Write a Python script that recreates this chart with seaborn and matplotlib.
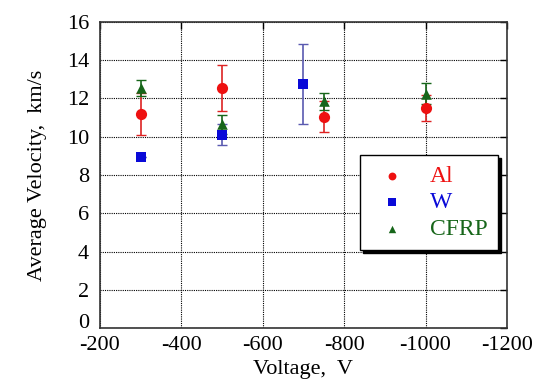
import numpy as np
import pandas as pd
import matplotlib
matplotlib.use("Agg")
import matplotlib.pyplot as plt
import seaborn as sns

# values
volt_al = [-300, -500, -750, -1000]
vel_al = [11.2, 12.55, 11.05, 11.5]
err_al = [1.1, 1.2, 0.8, 0.7]

volt_w = [-300, -500, -700]
vel_w = [8.95, 10.1, 12.75]
err_w = [0.0, 0.55, 2.1]

volt_cf = [-300, -500, -750, -1000]
vel_cf = [12.55, 10.65, 11.85, 12.25]
err_cf = [0.42, 0.5, 0.45, 0.55]

x_ticks = [-200, -400, -600, -800, -1000, -1200]
y_ticks = [0, 2, 4, 6, 8, 10, 12, 14, 16]

series = [
    ("Al", volt_al, vel_al, err_al, "#ee1111", "#dd2222", "o", 65),
    ("W", volt_w, vel_w, err_w, "#0a0ad8", "#5a5ab0", "s", 58),
    ("CFRP", volt_cf, vel_cf, err_cf, "#17661a", "#17661a", "^", 58),
]

sns.set_style("white")
plt.rcParams["font.family"] = ["Liberation Serif", "DejaVu Serif"]
plt.rcParams["font.size"] = 16
plt.rcParams["axes.unicode_minus"] = False
plt.rcParams["text.color"] = "black"
plt.rcParams["axes.labelcolor"] = "black"

fig = plt.figure(figsize=(5.39, 3.85), dpi=100)
ax = fig.add_axes([0.1855, 0.148, 0.755, 0.795])

for name, xs, ys, es, col, ecol, mk, sz in series:
    ax.errorbar(xs, ys, yerr=es, fmt="none", ecolor=ecol, elinewidth=1.2,
                capsize=3.5, capthick=1.0, zorder=2)
    df = pd.DataFrame({"x": xs, "y": ys})
    sns.scatterplot(data=df, x="x", y="y", ax=ax, marker=mk, s=sz, color=col,
                    edgecolor=col, linewidth=0, label=name, zorder=3)

ax.set_xlim(-200, -1200)
ax.set_ylim(0, 16)
ax.set_xticks(x_ticks)
ax.set_yticks(y_ticks)
ax.grid(True, color="black", linestyle=(0, (1, 1)), linewidth=0.8)
ax.tick_params(direction="in", top=True, right=True, length=5, width=1,
               labelsize=16, colors="black")
ax.tick_params(axis="x", pad=6)
ax.tick_params(axis="y", pad=8)
# the "0" sits on the axis line, just above the first x label
ax.get_yticklabels()[0].set_va("baseline")
for sp in ax.spines.values():
    sp.set_color("#333333")
    sp.set_linewidth(1.2)

ax.set_xlabel("Voltage,  V", fontsize=16, labelpad=3)
ax.set_ylabel("Average Velocity,  km/s", fontsize=16, labelpad=14)

leg = ax.legend(loc="upper left", bbox_to_anchor=(0.64, 0.565), fontsize=17,
                frameon=True, fancybox=False, shadow={"color": "black", "alpha": 1},
                framealpha=1, edgecolor="black", markerscale=0.7,
                handletextpad=0.7, labelspacing=0.2, borderpad=0.45,
                handlelength=1.8, borderaxespad=0)
leg.get_frame().set_linewidth(1.0)
for txt, s in zip(leg.get_texts(), series):
    txt.set_color(s[4])

fig.savefig("out.png", dpi=100)
